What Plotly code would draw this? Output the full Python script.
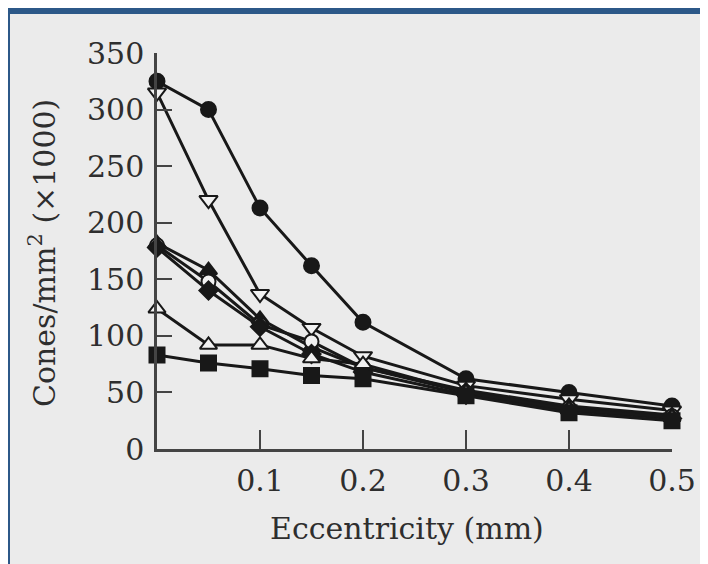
import plotly.graph_objects as go

eccentricity = [0, 0.05, 0.1, 0.15, 0.2, 0.3, 0.4, 0.5]

s_filled_circle = [325, 300, 213, 162, 112, 62, 50, 38]
s_open_tri_down = [315, 220, 137, 107, 82, 56, 44, 34]
s_filled_tri_up = [182, 158, 115, 90, 72, 52, 38, 30]
s_open_circle = [180, 148, 110, 95, 72, 50, 36, 29]
s_filled_diamond = [178, 140, 108, 84, 68, 48, 34, 27]
s_open_tri_up = [124, 92, 92, 80, 75, 50, 35, 28]
s_filled_square = [83, 76, 71, 65, 62, 47, 32, 25]

x_ticks = [0.1, 0.2, 0.3, 0.4, 0.5]
x_ticktext = ["0.1", "0.2", "0.3", "0.4", "0.5"]
y_ticks = [0, 50, 100, 150, 200, 250, 300, 350]

INK = "#181818"
BG = "#ebebeb"
OPEN_FILL = "#f2f2f2"
BLUE = "#2c5888"
TXT = "#2e2e2e"
AXC = "#444444"
FONT = "DejaVu Serif"

series = [
    (s_filled_circle, "circle", INK, 15),
    (s_open_tri_down, "triangle-down", OPEN_FILL, 16),
    (s_filled_tri_up, "triangle-up", INK, 15),
    (s_open_circle, "circle", OPEN_FILL, 14),
    (s_filled_diamond, "diamond", INK, 14),
    (s_open_tri_up, "triangle-up", OPEN_FILL, 15),
    (s_filled_square, "square", INK, 15),
]

fig = go.Figure()
for vals, sym, fill, size in series:
    fig.add_trace(go.Scatter(
        x=eccentricity, y=vals, mode="lines+markers",
        line=dict(color=INK, width=3),
        marker=dict(symbol=sym, color=fill, size=size, line=dict(color=INK, width=2)),
        cliponaxis=False, showlegend=False,
    ))

# page is offset by the 8px body margin, so figure coords = page coords - 8
OFF = 8
W, H = 708, 564
L, T = 157 - OFF, 53 - OFF
pw, ph = 515, 396
R = W - L - pw
B = H - T - ph

def px(xp):  # page x -> paper
    return (xp - OFF - L) / pw

def py(yp):  # page y -> paper
    return (T + ph - (yp - OFF)) / ph

# blue scan border (top and left)
fig.add_shape(type="rect", xref="paper", yref="paper",
              x0=px(-40), x1=px(760), y0=py(14), y1=py(-40),
              fillcolor=BLUE, line=dict(width=0), layer="below")
fig.add_shape(type="rect", xref="paper", yref="paper",
              x0=px(-40), x1=px(10), y0=py(-40), y1=py(620),
              fillcolor=BLUE, line=dict(width=0), layer="below")

fig.update_layout(
    width=W, height=H,
    margin=dict(l=L, r=R, t=T, b=B, pad=0),
    paper_bgcolor=BG, plot_bgcolor=BG,
    font=dict(family=FONT, color=TXT, size=30),
    xaxis=dict(range=[0, 0.5], tickvals=x_ticks, ticktext=x_ticktext,
               ticks="inside", ticklen=19, tickwidth=2, tickcolor=AXC,
               showline=True, linecolor=AXC, linewidth=2.5,
               showgrid=False, zeroline=False, ticklabelstandoff=3,
               tickfont=dict(size=30, family=FONT, color=TXT)),
    yaxis=dict(range=[0, 350], tickvals=y_ticks,
               ticks="inside", ticklen=15, tickwidth=2, tickcolor=AXC,
               showline=True, linecolor=AXC, linewidth=2.5,
               showgrid=False, zeroline=False, ticklabelstandoff=4,
               tickfont=dict(size=30, family=FONT, color=TXT)),
    annotations=[
        dict(text="Eccentricity (mm)", xref="paper", yref="paper",
             x=px(407), y=py(528), xanchor="center", yanchor="middle",
             showarrow=False, font=dict(size=30, family=FONT, color=TXT)),
        dict(text="Cones/mm<sup>2</sup> (×1000)", xref="paper", yref="paper",
             x=px(43), y=py(253), xanchor="center", yanchor="middle",
             textangle=-90, showarrow=False,
             font=dict(size=30, family=FONT, color=TXT)),
    ],
)

fig.write_html("out.html")
